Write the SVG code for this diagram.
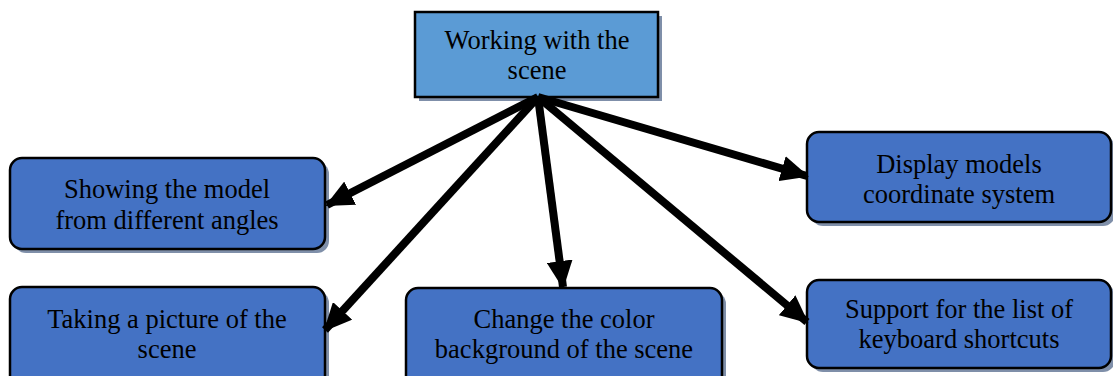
<svg xmlns="http://www.w3.org/2000/svg" width="1113" height="376" viewBox="0 0 1113 376">
<style>
.node{fill:#4472c4;stroke:#000;stroke-width:2.5}
.top{fill:#5b9bd5;stroke:#000;stroke-width:2.5}
.sh{fill:#7f8fa9}
text{font-family:"Liberation Serif","Times New Roman",serif;font-size:26.5px;fill:#000;text-anchor:middle}
.edge{stroke:#000;stroke-width:8;fill:none}
</style>
<defs>
<marker id="ah" markerUnits="userSpaceOnUse" markerWidth="28" markerHeight="26" refX="26" refY="13" orient="auto">
<path d="M0,0 L28,13 L0,26 Z" fill="#000"/>
</marker>
</defs>
<g id="n-top">
<rect class="sh" x="419" y="16" width="243" height="85"/>
<rect class="top" x="415" y="12" width="243" height="85"/>
<text x="537" y="49">Working with the</text>
<text x="537" y="79">scene</text>
</g>
<g id="n-angles">
<rect class="sh" x="14" y="162" width="315" height="91" rx="12"/>
<rect class="node" x="10" y="158" width="315" height="91" rx="12"/>
<text x="167" y="198">Showing the model</text>
<text x="167" y="229">from different angles</text>
</g>
<g id="n-coord">
<rect class="sh" x="811" y="136" width="304" height="90" rx="12"/>
<rect class="node" x="807" y="132" width="304" height="90" rx="12"/>
<text x="959" y="173">Display models</text>
<text x="959" y="203">coordinate system</text>
</g>
<g id="n-picture">
<rect class="sh" x="14" y="291" width="315" height="100" rx="12"/>
<rect class="node" x="10" y="287" width="315" height="100" rx="12"/>
<text x="167" y="328">Taking a picture of the</text>
<text x="167" y="358">scene</text>
</g>
<g id="n-color">
<rect class="sh" x="410" y="292" width="316" height="100" rx="12"/>
<rect class="node" x="406" y="288" width="316" height="100" rx="12"/>
<text x="564" y="328">Change the color</text>
<text x="564" y="358">background of the scene</text>
</g>
<g id="n-shortcuts">
<rect class="sh" x="811" y="284" width="304" height="88" rx="12"/>
<rect class="node" x="807" y="280" width="304" height="88" rx="12"/>
<text x="959" y="318">Support for the list of</text>
<text x="959" y="348">keyboard shortcuts</text>
</g>
<g id="connectors">
<line class="edge" x1="538" y1="97" x2="327" y2="205" marker-end="url(#ah)"/>
<line class="edge" x1="538" y1="97" x2="325" y2="330" marker-end="url(#ah)"/>
<line class="edge" x1="538" y1="97" x2="563" y2="287" marker-end="url(#ah)"/>
<line class="edge" x1="538" y1="97" x2="807" y2="176" marker-end="url(#ah)"/>
<line class="edge" x1="538" y1="97" x2="807" y2="322" marker-end="url(#ah)"/>
</g>
</svg>
